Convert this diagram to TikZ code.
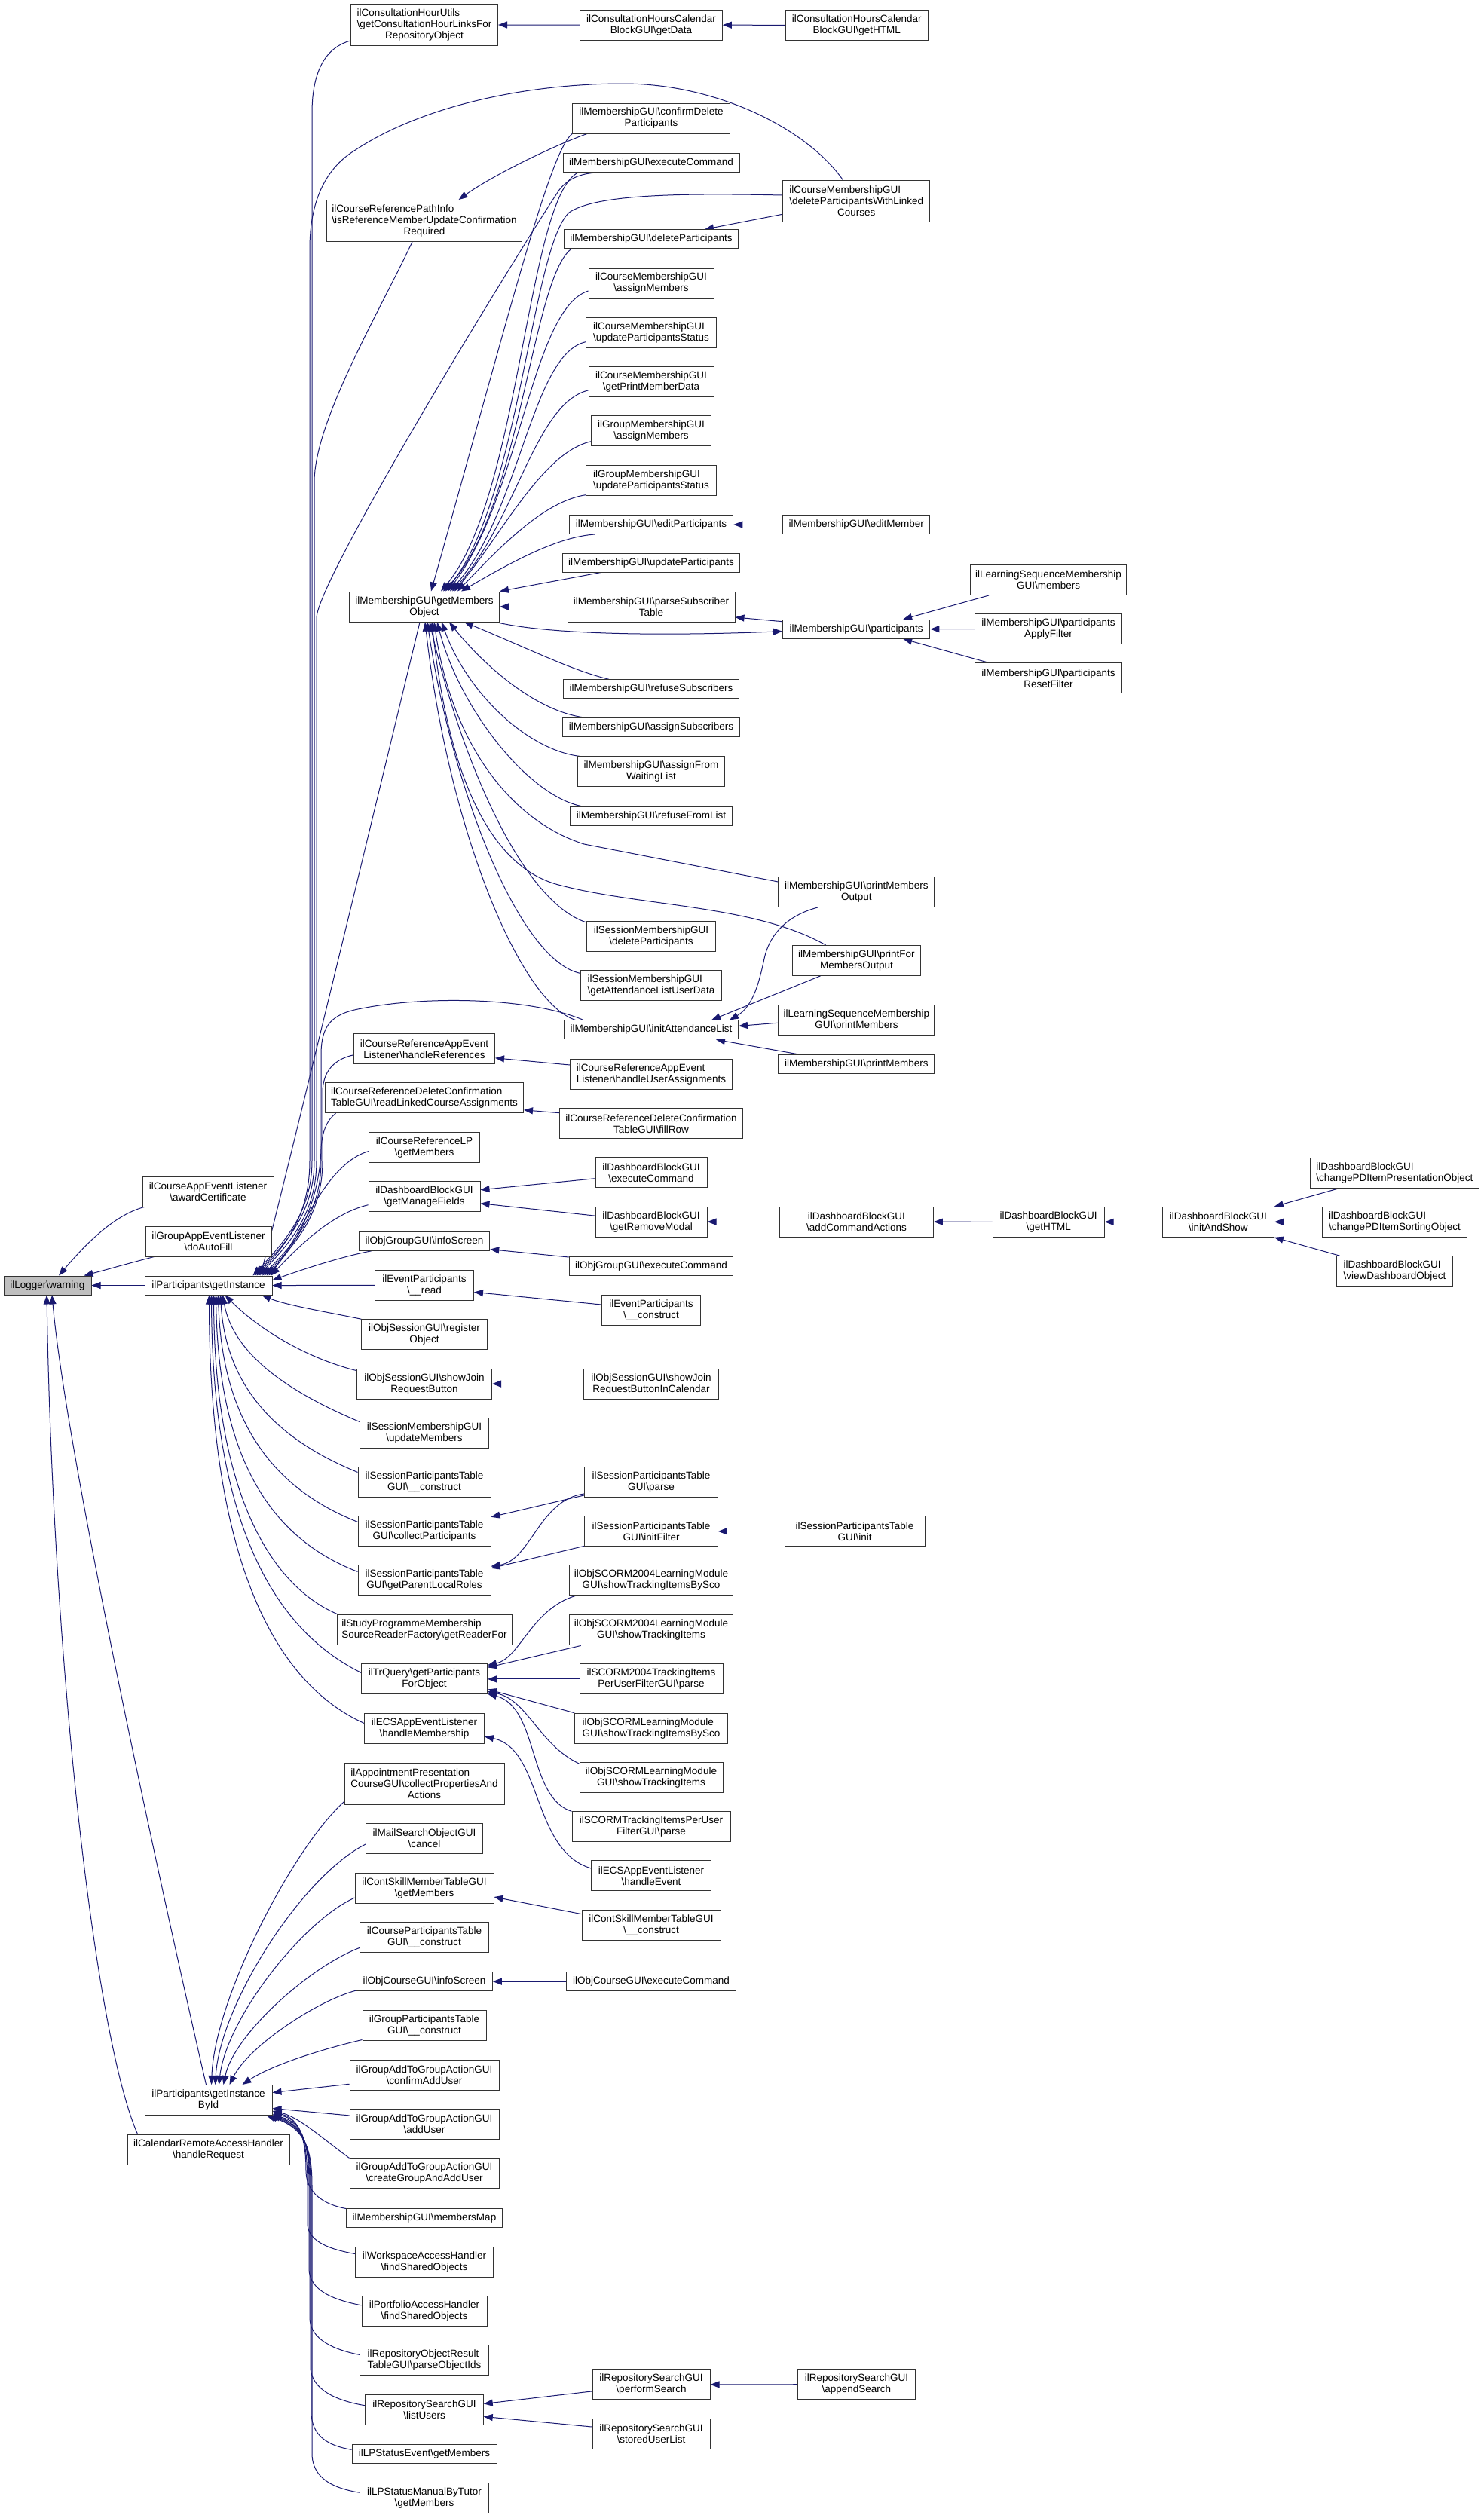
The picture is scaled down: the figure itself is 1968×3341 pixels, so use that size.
\documentclass[tikz,border=0pt]{standalone}
\usepackage{fontspec}
\setmainfont{Liberation Sans}
\usepackage{calc}
\usetikzlibrary{arrows.meta,calc}
\definecolor{edgeblue}{HTML}{191970}
\newcommand\bsl{\textbackslash}
\newcommand\LeftFirst[2]{\makebox[\widthof{#2}][l]{#1}\\#2}
\pgfdeclarelayer{bg}
\pgfsetlayers{bg,main}
\begin{document}
\begin{tikzpicture}[x=1pt,y=-1pt,
  nbox/.style={draw=black!80,line width=1pt,fill=white,inner xsep=2pt,inner ysep=1pt,align=center,font=\fontsize{13.5}{15}\selectfont,minimum height=25pt},
  ntwo/.style={minimum height=40pt},
  nthree/.style={minimum height=55pt},
  cedge/.style={draw=edgeblue,line width=1pt,{Triangle[length=12pt,width=9pt]}-}]
\useasboundingbox (0,0) rectangle (1968,3341);

% ---------- column 1
\node[nbox,fill=black!25,minimum width=116pt] (warning) at (63,1705.5) {ilLogger\bsl warning};
\node[nbox,ntwo,minimum width=174pt] (cael) at (276,1581) {ilCourseAppEventListener\\\bsl awardCertificate};
\node[nbox,ntwo,minimum width=167pt] (gael) at (276.5,1647) {ilGroupAppEventListener\\\bsl doAutoFill};
\node[nbox,minimum width=169pt] (gi) at (276.5,1705.5) {ilParticipants\bsl getInstance};
\node[nbox,ntwo,minimum width=169pt] (gibi) at (276.5,2786.5) {ilParticipants\bsl getInstance\\ById};
\node[nbox,ntwo,minimum width=215pt] (crah) at (276.5,2852) {ilCalendarRemoteAccessHandler\\\bsl handleRequest};

% ---------- column 2
\node[nbox,nthree,minimum width=195pt] (chu) at (563,33) {\LeftFirst{ilConsultationHourUtils}{\bsl getConsultationHourLinksFor}\\RepositoryObject};
\node[nbox,nthree,minimum width=259pt] (crpi) at (563,293) {\LeftFirst{ilCourseReferencePathInfo}{\bsl isReferenceMemberUpdateConfirmation}\\Required};
\node[nbox,ntwo,minimum width=199pt] (gmo) at (563,805) {ilMembershipGUI\bsl getMembers\\Object};
\node[nbox,ntwo,minimum width=187pt] (crae) at (563,1391.8) {ilCourseReferenceAppEvent\\Listener\bsl handleReferences};
\node[nbox,ntwo,minimum width=263pt] (crdc) at (563,1456.8) {\LeftFirst{ilCourseReferenceDeleteConfirmation}{TableGUI\bsl readLinkedCourseAssignments}};
\node[nbox,ntwo,minimum width=147pt] (crlp) at (563,1522.5) {ilCourseReferenceLP\\\bsl getMembers};
\node[nbox,ntwo,minimum width=148pt] (dbmf) at (563,1587.7) {ilDashboardBlockGUI\\\bsl getManageFields};
\node[nbox,minimum width=173.5pt] (ogis) at (563,1646.6) {ilObjGroupGUI\bsl infoScreen};
\node[nbox,ntwo,minimum width=131pt] (epr) at (563,1705.4) {ilEventParticipants\\\bsl\_\_read};
\node[nbox,ntwo,minimum width=166.5pt] (osro) at (563,1770.7) {ilObjSessionGUI\bsl register\\Object};
\node[nbox,ntwo,minimum width=179pt] (osjb) at (563,1836.1) {ilObjSessionGUI\bsl showJoin\\RequestButton};
\node[nbox,ntwo,minimum width=171pt] (smum) at (563,1901.4) {ilSessionMembershipGUI\\\bsl updateMembers};
\node[nbox,ntwo,minimum width=176pt] (sptc) at (563,1966.4) {ilSessionParticipantsTable\\GUI\bsl\_\_construct};
\node[nbox,ntwo,minimum width=176pt] (sptcp) at (563,2031.8) {ilSessionParticipantsTable\\GUI\bsl collectParticipants};
\node[nbox,ntwo,minimum width=176pt] (sptpl) at (563,2096.8) {ilSessionParticipantsTable\\GUI\bsl getParentLocalRoles};
\node[nbox,ntwo,minimum width=232pt] (sprf) at (563,2162.9) {\LeftFirst{ilStudyProgrammeMembership}{SourceReaderFactory\bsl getReaderFor}};
\node[nbox,ntwo,minimum width=167pt] (trq) at (563,2227.9) {ilTrQuery\bsl getParticipants\\ForObject};
\node[nbox,ntwo,minimum width=159pt] (ecshm) at (563,2293.2) {ilECSAppEventListener\\\bsl handleMembership};
\node[nbox,nthree,minimum width=212pt] (apc) at (563,2366.6) {\LeftFirst{ilAppointmentPresentation}{CourseGUI\bsl collectPropertiesAnd}\\Actions};
\node[nbox,ntwo,minimum width=155pt] (msc) at (563,2439.6) {ilMailSearchObjectGUI\\\bsl cancel};
\node[nbox,ntwo,minimum width=184pt] (csgm) at (563,2505) {ilContSkillMemberTableGUI\\\bsl getMembers};
\node[nbox,ntwo,minimum width=171pt] (cpt) at (563,2570.4) {ilCourseParticipantsTable\\GUI\bsl\_\_construct};
\node[nbox,minimum width=180.5pt] (ocis) at (563,2629.1) {ilObjCourseGUI\bsl infoScreen};
\node[nbox,ntwo,minimum width=164pt] (gpt) at (563,2687.5) {ilGroupParticipantsTable\\GUI\bsl\_\_construct};
\node[nbox,ntwo,minimum width=198pt] (gcau) at (563,2753.2) {ilGroupAddToGroupActionGUI\\\bsl confirmAddUser};
\node[nbox,ntwo,minimum width=198pt] (gau) at (563,2818.3) {ilGroupAddToGroupActionGUI\\\bsl addUser};
\node[nbox,ntwo,minimum width=198pt] (gcga) at (563,2883.9) {ilGroupAddToGroupActionGUI\\\bsl createGroupAndAddUser};
\node[nbox,minimum width=207pt] (mmap) at (563,2942.5) {ilMembershipGUI\bsl membersMap};
\node[nbox,ntwo,minimum width=183pt] (wsa) at (563,3001.2) {ilWorkspaceAccessHandler\\\bsl findSharedObjects};
\node[nbox,ntwo,minimum width=166pt] (pfa) at (563,3066.8) {ilPortfolioAccessHandler\\\bsl findSharedObjects};
\node[nbox,ntwo,minimum width=171pt] (rort) at (563,3131.8) {\LeftFirst{ilRepositoryObjectResult}{TableGUI\bsl parseObjectIds}};
\node[nbox,ntwo,minimum width=156.5pt] (rslu) at (563,3197.4) {ilRepositorySearchGUI\\\bsl listUsers};
\node[nbox,minimum width=192pt] (lpse) at (563,3255.9) {ilLPStatusEvent\bsl getMembers};
\node[nbox,ntwo,minimum width=171pt] (lpsm) at (563,3314.9) {ilLPStatusManualByTutor\\\bsl getMembers};

% ---------- column 3
\node[nbox,ntwo,minimum width=188.6pt] (chcbd) at (864,33.2) {ilConsultationHoursCalendar\\BlockGUI\bsl getData};
\node[nbox,ntwo,minimum width=208.6pt] (cdp) at (864,157) {ilMembershipGUI\bsl confirmDelete\\Participants};
\node[nbox,minimum width=234pt] (mexe) at (864,216) {ilMembershipGUI\bsl executeCommand};
\node[nbox,minimum width=231pt] (mdp) at (864,317.3) {ilMembershipGUI\bsl deleteParticipants};
\node[nbox,ntwo,minimum width=166pt] (cmam) at (864,376) {ilCourseMembershipGUI\\\bsl assignMembers};
\node[nbox,ntwo,minimum width=173pt] (cmups) at (864,441.4) {\LeftFirst{ilCourseMembershipGUI}{\bsl updateParticipantsStatus}};
\node[nbox,ntwo,minimum width=166pt] (cmgpd) at (864,506.4) {ilCourseMembershipGUI\\\bsl getPrintMemberData};
\node[nbox,ntwo,minimum width=159pt] (gmam) at (864,571.8) {ilGroupMembershipGUI\\\bsl assignMembers};
\node[nbox,ntwo,minimum width=173pt] (gmups) at (864,637.1) {\LeftFirst{ilGroupMembershipGUI}{\bsl updateParticipantsStatus}};
\node[nbox,minimum width=217.5pt] (mep) at (864,696) {ilMembershipGUI\bsl editParticipants};
\node[nbox,minimum width=235pt] (mup) at (864,746.6) {ilMembershipGUI\bsl updateParticipants};
\node[nbox,ntwo,minimum width=222pt] (mpst) at (864,805) {ilMembershipGUI\bsl parseSubscriber\\Table};
\node[nbox,minimum width=233pt] (mrs) at (864,914.3) {ilMembershipGUI\bsl refuseSubscribers};
\node[nbox,minimum width=235pt] (mas) at (864,965.4) {ilMembershipGUI\bsl assignSubscribers};
\node[nbox,ntwo,minimum width=194.6pt] (mafwl) at (864,1023.9) {ilMembershipGUI\bsl assignFrom\\WaitingList};
\node[nbox,minimum width=215pt] (mrfl) at (864,1082.5) {ilMembershipGUI\bsl refuseFromList};
\node[nbox,ntwo,minimum width=171pt] (smdp) at (864,1242.9) {ilSessionMembershipGUI\\\bsl deleteParticipants};
\node[nbox,ntwo,minimum width=187pt] (smgal) at (864,1307.9) {\LeftFirst{ilSessionMembershipGUI}{\bsl getAttendanceListUserData}};
\node[nbox,minimum width=231pt] (mial) at (864,1366.4) {ilMembershipGUI\bsl initAttendanceList};
\node[nbox,ntwo,minimum width=215pt] (craeua) at (864,1425) {\LeftFirst{ilCourseReferenceAppEvent}{Listener\bsl handleUserAssignments}};
\node[nbox,ntwo,minimum width=242.6pt] (crdcfr) at (864,1490.7) {ilCourseReferenceDeleteConfirmation\\TableGUI\bsl fillRow};
\node[nbox,ntwo,minimum width=148pt] (dbec) at (864,1555.7) {ilDashboardBlockGUI\\\bsl executeCommand};
\node[nbox,ntwo,minimum width=148pt] (dbrm) at (864,1621.1) {ilDashboardBlockGUI\\\bsl getRemoveModal};
\node[nbox,minimum width=217.5pt] (ogec) at (864,1680) {ilObjGroupGUI\bsl executeCommand};
\node[nbox,ntwo,minimum width=131pt] (epc) at (864,1738.6) {ilEventParticipants\\\bsl\_\_construct};
\node[nbox,ntwo,minimum width=179pt] (osjbc) at (864,1836.1) {ilObjSessionGUI\bsl showJoin\\RequestButtonInCalendar};
\node[nbox,ntwo,minimum width=176.4pt] (sptp) at (864,1966.4) {ilSessionParticipantsTable\\GUI\bsl parse};
\node[nbox,ntwo,minimum width=176.4pt] (sptif) at (864,2031.8) {ilSessionParticipantsTable\\GUI\bsl initFilter};
\node[nbox,ntwo,minimum width=217.5pt] (s04bs) at (864,2096.8) {ilObjSCORM2004LearningModule\\GUI\bsl showTrackingItemsBySco};
\node[nbox,ntwo,minimum width=217.5pt] (s04ti) at (864,2162.9) {ilObjSCORM2004LearningModule\\GUI\bsl showTrackingItems};
\node[nbox,ntwo,minimum width=190pt] (s04pu) at (864,2227.9) {ilSCORM2004TrackingItems\\PerUserFilterGUI\bsl parse};
\node[nbox,ntwo,minimum width=202.7pt] (slmbs) at (864,2293.2) {\LeftFirst{ilObjSCORMLearningModule}{GUI\bsl showTrackingItemsBySco}};
\node[nbox,ntwo,minimum width=190pt] (slmti) at (864,2358.6) {ilObjSCORMLearningModule\\GUI\bsl showTrackingItems};
\node[nbox,ntwo,minimum width=210pt] (stpu) at (864,2423.9) {ilSCORMTrackingItemsPerUser\\FilterGUI\bsl parse};
\node[nbox,ntwo,minimum width=159pt] (ecshe) at (864,2488.9) {ilECSAppEventListener\\\bsl handleEvent};
\node[nbox,ntwo,minimum width=184pt] (cscon) at (864,2554.6) {ilContSkillMemberTableGUI\\\bsl\_\_construct};
\node[nbox,minimum width=224.6pt] (ocec) at (864,2629.1) {ilObjCourseGUI\bsl executeCommand};
\node[nbox,ntwo,minimum width=156pt] (rsps) at (864,3163.9) {ilRepositorySearchGUI\\\bsl performSearch};
\node[nbox,ntwo,minimum width=156pt] (rssul) at (864,3229) {ilRepositorySearchGUI\\\bsl storedUserList};

% ---------- column 4
\node[nbox,ntwo,minimum width=188.6pt] (chcbh) at (1136.8,33.3) {ilConsultationHoursCalendar\\BlockGUI\bsl getHTML};
\node[nbox,nthree,minimum width=195.3pt] (cdpwl) at (1136.2,266.5) {\LeftFirst{ilCourseMembershipGUI}{\bsl deleteParticipantsWithLinked}\\Courses};
\node[nbox,minimum width=195.3pt] (mem) at (1136.2,696) {ilMembershipGUI\bsl editMember};
\node[nbox,minimum width=195.3pt] (mpart) at (1136.2,834.7) {ilMembershipGUI\bsl participants};
\node[nbox,ntwo,minimum width=207pt] (mpmo) at (1136.4,1183.4) {ilMembershipGUI\bsl printMembers\\Output};
\node[nbox,ntwo,minimum width=170.7pt] (mpfmo) at (1136.4,1274.4) {ilMembershipGUI\bsl printFor\\MembersOutput};
\node[nbox,ntwo,minimum width=207pt] (lsmpm) at (1136.4,1353.2) {ilLearningSequenceMembership\\GUI\bsl printMembers};
\node[nbox,minimum width=207pt] (mpm) at (1136.4,1411.7) {ilMembershipGUI\bsl printMembers};
\node[nbox,ntwo,minimum width=204pt] (dbaca) at (1136.4,1621.1) {ilDashboardBlockGUI\\\bsl addCommandActions};
\node[nbox,ntwo,minimum width=186pt] (sptinit) at (1134,2031.8) {ilSessionParticipantsTable\\GUI\bsl init};
\node[nbox,ntwo,minimum width=156.4pt] (rsas) at (1136.4,3163.7) {ilRepositorySearchGUI\\\bsl appendSearch};

% ---------- column 5-7
\node[nbox,ntwo,minimum width=207pt] (lsmm) at (1391,769.5) {ilLearningSequenceMembership\\GUI\bsl members};
\node[nbox,ntwo,minimum width=195pt] (mpaf) at (1391,834.5) {ilMembershipGUI\bsl participants\\ApplyFilter};
\node[nbox,ntwo,minimum width=195pt] (mprf) at (1391,899.9) {ilMembershipGUI\bsl participants\\ResetFilter};
\node[nbox,ntwo,minimum width=148pt] (dbgh) at (1391.2,1621.3) {ilDashboardBlockGUI\\\bsl getHTML};
\node[nbox,ntwo,minimum width=148pt] (dbias) at (1616.3,1621.3) {ilDashboardBlockGUI\\\bsl initAndShow};
\node[nbox,ntwo,minimum width=224pt] (dbpres) at (1850.4,1556) {\LeftFirst{ilDashboardBlockGUI}{\bsl changePDItemPresentationObject}};
\node[nbox,ntwo,minimum width=191.3pt] (dbsort) at (1850.4,1621.3) {\LeftFirst{ilDashboardBlockGUI}{\bsl changePDItemSortingObject}};
\node[nbox,ntwo,minimum width=154.5pt] (dbview) at (1850.4,1686.7) {\LeftFirst{ilDashboardBlockGUI}{\bsl viewDashboardObject}};

\begin{pgfonlayer}{bg}
% into warning
\draw[cedge] ($(warning.north)+(15,0)$) .. controls (110,1655) and (150,1612) .. ($(cael.south west)+(3,0)$);
\draw[cedge] ($(warning.north east)+(-10,0)$) .. controls (140,1685) and (175,1675) .. ($(gael.south west)+(12,0)$);
\draw[cedge] (warning.east) -- (gi.west);
\draw[cedge] ($(warning.south)+(6,0)$) .. controls (90,1950) and (235,2600) .. ($(gibi.north)+(-3,0)$);
\draw[cedge] ($(warning.south)+(-1,0)$) .. controls (70,2200) and (125,2700) .. ($(crah.north west)+(14,0)$);

% into getInstance, from above
\draw[cedge] ($(gi.north east)+(-26,0)$) .. controls (375,1650) and (414,1610) .. (414,1540) -- (414,150) .. controls (414,90) and (435,62) .. ($(chu.south west)+(0,-7)$);
\draw[cedge] ($(gi.north east)+(-23.5,0)$) .. controls (378,1650) and (417,1610) .. (417,1540) -- (417,640) .. controls (417,560) and (500,420) .. ($(crpi.south)+(-16,0)$);
\draw[cedge] ($(gi.north east)+(-21,0)$) .. controls (381,1650) and (411,1610) .. (411,1540) -- (411,330) .. controls (411,270) and (430,225) .. (470,200) .. controls (560,140) and (700,111) .. (827,111) .. controls (950,111) and (1070,170) .. ($(cdpwl.north)+(-18,0)$);
\draw[cedge] ($(gi.north east)+(-18.5,0)$) .. controls (384,1650) and (420,1610) .. (420,1540) -- (420,820) .. controls (420,770) and (690,330) .. (742,252) .. controls (755,235) and (775,229) .. ($(mexe.south west)+(50,0)$);
\draw[cedge] ($(gi.north east)+(-16,0)$) .. controls (375,1580) and (515,1000) .. ($(gmo.south)+(-6,0)$);
\draw[cedge] ($(gi.north east)+(-13.5,0)$) .. controls (390,1650) and (426,1610) .. (426,1540) -- (426,1400) .. controls (426,1360) and (440,1345) .. (480,1338) .. controls (560,1322) and (700,1322) .. ($(mial.north west)+(26,0)$);
\draw[cedge] ($(gi.north east)+(-11,0)$) .. controls (393,1650) and (428,1610) .. (428,1540) -- (428,1450) .. controls (428,1420) and (445,1405) .. ($(crae.west)+(0,8)$);
\draw[cedge] ($(gi.north east)+(-8,0)$) .. controls (396,1650) and (424,1590) .. (426,1525) .. controls (427,1500) and (435,1485) .. ($(crdc.south west)+(14.5,0)$);
\draw[cedge] ($(gi.north east)+(-5,0)$) .. controls (400,1640) and (430,1545) .. ($(crlp.west)+(0,5)$);
\draw[cedge] ($(gi.north east)+(-2,0)$) .. controls (395,1655) and (440,1610) .. ($(dbmf.west)+(0,11)$);
\draw[cedge] ($(gi.east)+(0,-7)$) .. controls (400,1685) and (450,1668) .. ($(ogis.south west)+(18,0)$);

% into getInstance, from below
\draw[cedge] (gi.east) -- (epr.west);
\draw[cedge] ($(gi.south east)+(-14,0)$) .. controls (380,1732) and (440,1742) .. (osro.north west);
\draw[cedge] ($(gi.south)+(22,0)$) .. controls (340,1760) and (400,1800) .. ($(osjb.north west)+(0,3)$);
\draw[cedge] ($(gi.south)+(19,0)$) .. controls (310,1800) and (390,1850) .. ($(smum.west)+(0,-15)$);
\draw[cedge] ($(gi.south)+(16,0)$) .. controls (300,1850) and (380,1915) .. ($(sptc.west)+(0,-13)$);
\draw[cedge] ($(gi.south)+(13,0)$) .. controls (295,1900) and (375,1980) .. ($(sptcp.west)+(0,-12.5)$);
\draw[cedge] ($(gi.south)+(10,0)$) .. controls (290,1950) and (370,2045) .. ($(sptpl.west)+(0,-11.4)$);
\draw[cedge] ($(gi.south)+(7,0)$) .. controls (285,2000) and (370,2110) .. ($(sprf.north west)+(3,0)$);
\draw[cedge] ($(gi.south)+(4,0)$) .. controls (282,2050) and (380,2170) .. ($(trq.west)+(0,-8.6)$);
\draw[cedge] ($(gi.south)+(1,0)$) .. controls (278,2100) and (380,2240) .. ($(ecshm.west)+(0,-6.8)$);

% into getInstanceById
\draw[cedge] ($(gibi.north)+(4,0)$) .. controls (285,2650) and (390,2450) .. ($(apc.south west)+(0,-4)$);
\draw[cedge] ($(gibi.north)+(9,0)$) .. controls (292,2660) and (400,2490) .. ($(msc.west)+(0,7.4)$);
\draw[cedge] ($(gibi.north)+(14,0)$) .. controls (300,2680) and (400,2550) .. ($(csgm.west)+(0,13)$);
\draw[cedge] ($(gibi.north)+(20,0)$) .. controls (310,2700) and (410,2610) .. ($(cpt.west)+(0,14)$);
\draw[cedge] ($(gibi.north)+(28,0)$) .. controls (330,2715) and (420,2655) .. ($(ocis.south west)+(0,-1)$);
\draw[cedge] ($(gibi.north)+(45,0)$) .. controls (360,2740) and (430,2718) .. ($(gpt.south west)+(0,-1.5)$);
\draw[cedge] ($(gibi.east)+(0,-10)$) -- ($(gcau.west)+(0,12)$);
\draw[cedge] ($(gibi.east)+(0,11)$) -- ($(gau.west)+(0,-11.4)$);
\draw[cedge] ($(gibi.south east)+(0,-6)$) .. controls (395,2808) and (425,2835) .. (gcga.north west);
\draw[cedge] ($(gibi.south east)+(0,-4)$) .. controls (398,2810) and (406,2840) .. (406,2880) .. controls (406,2910) and (430,2925) .. ($(mmap.north west)+(0,1)$);
\draw[cedge] ($(gibi.south east)+(0,-2)$) .. controls (400,2812) and (408,2840) .. (408,2900) -- (408,2950) .. controls (408,2975) and (440,2985) .. ($(wsa.west)+(0,-10.7)$);
\draw[cedge] (gibi.south east) .. controls (402,2815) and (410,2845) .. (410,2900) -- (410,3010) .. controls (410,3040) and (445,3052) .. ($(pfa.west)+(0,-8)$);
\draw[cedge] ($(gibi.south east)+(-2,0)$) .. controls (403,2818) and (411,2848) .. (411,2900) -- (411,3075) .. controls (411,3105) and (445,3118) .. ($(rort.west)+(0,-7.4)$);
\draw[cedge] ($(gibi.south east)+(-4,0)$) .. controls (404,2820) and (412,2850) .. (412,2900) -- (412,3140) .. controls (412,3172) and (450,3186) .. ($(rslu.west)+(0,-5.7)$);
\draw[cedge] ($(gibi.south east)+(-6,0)$) .. controls (405,2822) and (413,2852) .. (413,2900) -- (413,3200) .. controls (413,3232) and (435,3245) .. ($(lpse.west)+(0,-5.6)$);
\draw[cedge] ($(gibi.south east)+(-8,0)$) .. controls (406,2824) and (414,2854) .. (414,2900) -- (414,3255) .. controls (414,3290) and (445,3302) .. ($(lpsm.west)+(0,-7.7)$);

% top area
\draw[cedge] (chu.east) -- (chcbd.west);
\draw[cedge] (chcbd.east) -- (chcbh.west);
\draw[cedge] ($(crpi.north)+(45.6,0)$) .. controls (650,235) and (730,195) .. ($(cdp.south west)+(19.6,0)$);
\draw[cedge] ($(mdp.north east)+(-45,0)$) -- ($(cdpwl.west)+(0,17.8)$);

% into getMembersObject, from above
\draw[cedge] ($(gmo.north)+(9,0)$) .. controls (680,400) and (730,200) .. (cdp.south west);
\draw[cedge] ($(gmo.north)+(22,0)$) .. controls (690,660) and (700,260) .. ($(mexe.south west)+(20.7,0)$);
\draw[cedge] ($(gmo.north)+(25,0)$) .. controls (690,680) and (705,370) .. ($(mdp.south west)+(10,0)$);
\draw[cedge] ($(gmo.north)+(28,0)$) .. controls (690,660) and (705,330) .. (755,282) .. controls (790,258) and (900,256) .. ($(cdpwl.west)+(0,-7.5)$);
\draw[cedge] ($(gmo.north)+(31,0)$) .. controls (690,660) and (705,410) .. ($(cmam.west)+(0,10)$);
\draw[cedge] ($(gmo.north)+(34,0)$) .. controls (690,680) and (705,470) .. ($(cmups.west)+(0,12.3)$);
\draw[cedge] ($(gmo.north)+(37,0)$) .. controls (685,690) and (710,535) .. ($(cmgpd.west)+(0,11.5)$);
\draw[cedge] ($(gmo.north)+(40,0)$) .. controls (665,710) and (720,600) .. ($(gmam.west)+(0,14)$);
\draw[cedge] ($(gmo.north)+(44,0)$) .. controls (660,730) and (720,665) .. ($(gmups.south west)+(0.7,-1)$);
\draw[cedge] ($(gmo.north)+(49,0)$) .. controls (680,745) and (740,712) .. ($(mep.south west)+(35,0)$);
\draw[cedge] (gmo.north east) -- ($(mup.south west)+(51,0)$);
\draw[cedge] (gmo.east) -- (mpst.west);
% into getMembersObject, from below
\draw[cedge] ($(gmo.south)+(53,0)$) .. controls (700,860) and (760,890) .. ($(mrs.north west)+(61,0)$);
\draw[cedge] ($(gmo.south)+(33,0)$) .. controls (640,880) and (710,945) .. ($(mas.north west)+(32.5,0)$);
\draw[cedge] ($(gmo.south)+(23,0)$) .. controls (620,920) and (700,995) .. ($(mafwl.north west)+(3,0)$);
\draw[cedge] ($(gmo.south)+(17,0)$) .. controls (610,940) and (700,1055) .. ($(mrfl.north west)+(15,0)$);
\draw[cedge] ($(gmo.south)+(13,0)$) .. controls (600,990) and (680,1090) .. (775,1120) -- ($(mpmo.west)+(0,-13.4)$);
\draw[cedge] ($(gmo.south)+(10,0)$) .. controls (595,1030) and (650,1150) .. (741,1174) .. controls (850,1203) and (1000,1200) .. ($(mpfmo.north west)+(45,0)$);
\draw[cedge] ($(gmo.south)+(7,0)$) .. controls (610,1000) and (690,1195) .. ($(smdp.west)+(0,-19)$);
\draw[cedge] ($(gmo.south)+(4,0)$) .. controls (600,1050) and (690,1275) .. ($(smgal.west)+(0,-16.5)$);
\draw[cedge] ($(gmo.south)+(1,0)$) .. controls (595,1100) and (690,1330) .. ($(mial.north west)+(15.5,0)$);

% participants
\draw[cedge] ($(mpart.west)+(0,3)$) .. controls (850,845) and (720,840) .. ($(gmo.south east)+(-5,0)$);
\draw[cedge] ($(mpst.east)+(0,14)$) -- ($(mpart.west)+(0,-10)$);
\draw[cedge] ($(mpart.north)+(62,0)$) -- ($(lsmm.south west)+(25,0)$);
\draw[cedge] (mpart.east) -- (mpaf.west);
\draw[cedge] ($(mpart.south)+(62,0)$) -- ($(mprf.north west)+(19,0)$);
\draw[cedge] (mep.east) -- (mem.west);

% initAttendanceList
\draw[cedge] ($(mial.north east)+(-12,0)$) .. controls (1000,1335) and (1008,1300) .. (1014,1272) .. controls (1022,1235) and (1050,1213) .. ($(mpmo.south west)+(53,0)$);
\draw[cedge] ($(mial.north east)+(-36,0)$) -- ($(mpfmo.south west)+(38,0)$);
\draw[cedge] ($(mial.east)+(0,-5)$) -- ($(lsmpm.west)+(0,4)$);
\draw[cedge] ($(mial.south east)+(-30,0)$) -- ($(mpm.north west)+(26,0)$);

% middle area
\draw[cedge] ($(crae.east)+(0,12)$) -- ($(craeua.west)+(0,-12)$);
\draw[cedge] ($(crdc.east)+(0,16)$) -- ($(crdcfr.west)+(0,-14)$);
\draw[cedge] ($(dbmf.east)+(0,-9)$) -- ($(dbec.west)+(0,8)$);
\draw[cedge] ($(dbmf.east)+(0,9)$) -- ($(dbrm.west)+(0,-8)$);
\draw[cedge] (dbrm.east) -- (dbaca.west);
\draw[cedge] (dbaca.east) -- (dbgh.west);
\draw[cedge] (dbgh.east) -- (dbias.west);
\draw[cedge] (dbias.north east) -- ($(dbpres.south west)+(39.5,0)$);
\draw[cedge] (dbias.east) -- (dbsort.west);
\draw[cedge] (dbias.south east) -- ($(dbview.north west)+(5,0)$);
\draw[cedge] ($(ogis.east)+(0,11)$) -- ($(ogec.north west)+(0,1)$);
\draw[cedge] ($(epr.east)+(0,9)$) -- ($(epc.west)+(0,-7.6)$);
\draw[cedge] (osjb.east) -- (osjbc.west);
\draw[cedge] ($(sptcp.north east)+(0,1.5)$) -- ($(sptp.south west)+(0,-3)$);
\draw[cedge] ($(sptpl.north east)+(0,2)$) .. controls (705,2070) and (715,1990) .. ($(sptp.south west)+(0,-5)$);
\draw[cedge] ($(sptpl.north east)+(0,4.5)$) -- ($(sptif.south west)+(0,-1)$);
\draw[cedge] (sptif.east) -- (sptinit.west);

% trQuery
\draw[cedge] ($(trq.north east)+(0,2)$) .. controls (690,2200) and (705,2135) .. ($(s04bs.south west)+(9,0)$);
\draw[cedge] ($(trq.north east)+(0,5)$) -- ($(s04ti.south west)+(16,0)$);
\draw[cedge] (trq.east) -- (s04pu.west);
\draw[cedge] ($(trq.south east)+(0,-7)$) -- (slmbs.north west);
\draw[cedge] ($(trq.south east)+(0,-4)$) .. controls (700,2255) and (715,2315) .. ($(slmti.north west)+(0,2)$);
\draw[cedge] ($(trq.south east)+(0,-1)$) .. controls (715,2265) and (700,2385) .. (stpu.north west);
\draw[cedge] ($(ecshm.east)+(0,11)$) .. controls (720,2320) and (705,2455) .. ($(ecshe.west)+(0,-10)$);
\draw[cedge] ($(csgm.east)+(0,12)$) -- ($(cscon.west)+(0,-15)$);
\draw[cedge] (ocis.east) -- (ocec.west);

% repository search
\draw[cedge] ($(rslu.east)+(0,-8)$) -- ($(rsps.west)+(0,9)$);
\draw[cedge] ($(rslu.east)+(0,9)$) -- ($(rssul.west)+(0,-9)$);
\draw[cedge] (rsps.east) -- (rsas.west);
\end{pgfonlayer}
\end{tikzpicture}
\end{document}
